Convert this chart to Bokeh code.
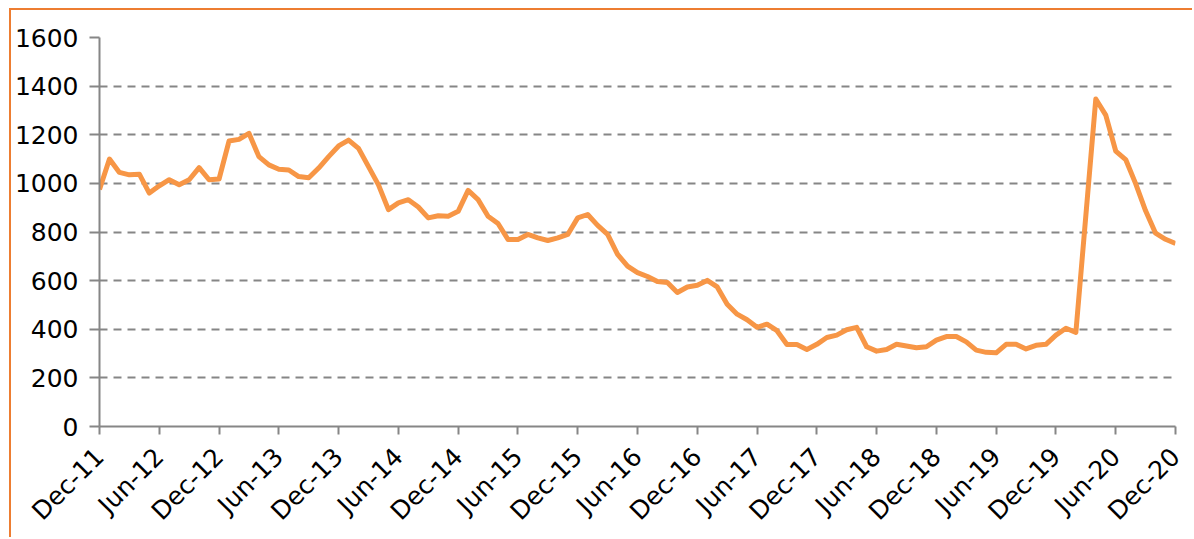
import math
from bokeh.plotting import figure
from bokeh.models import FixedTicker, Range1d
from bokeh.embed import file_html
from bokeh.resources import INLINE

# month index since Dec-11 (line jumps straight from month 98 to month 100)
months = [0, 1, 2, 3, 4, 5, 6, 7, 8, 9, 10, 11, 12, 13, 14, 15, 16, 17, 18, 19,
          20, 21, 22, 23, 24, 25, 26, 27, 28, 29, 30, 31, 32, 33, 34, 35, 36, 37, 38, 39,
          40, 41, 42, 43, 44, 45, 46, 47, 48, 49, 50, 51, 52, 53, 54, 55, 56, 57, 58, 59,
          60, 61, 62, 63, 64, 65, 66, 67, 68, 69, 70, 71, 72, 73, 74, 75, 76, 77, 78, 79,
          80, 81, 82, 83, 84, 85, 86, 87, 88, 89, 90, 91, 92, 93, 94, 95, 96, 97, 98,
          100, 101, 102, 103, 104, 105, 106, 107, 108]
values = [975, 1100, 1045, 1035, 1038, 960, 990, 1015, 994, 1015, 1065, 1015, 1018, 1174, 1181, 1206, 1110, 1076, 1058, 1055,
          1028, 1023, 1063, 1110, 1154, 1178, 1144, 1069, 994, 892, 920, 933, 903, 858, 867, 865, 885, 971, 933, 865,
          835, 769, 769, 790, 776, 765, 776, 790, 858, 872, 827, 790, 708, 660, 633, 617, 596, 592, 551, 574,
          581, 601, 574, 503, 462, 439, 408, 421, 394, 337, 337, 317, 338, 366, 376, 398, 408, 328, 310, 317,
          338, 331, 324, 328, 355, 370, 370, 348, 314, 305, 303, 338, 338, 319, 334, 338, 376, 404, 387,
          1347, 1281, 1133, 1098, 999, 887, 795, 770, 753]
tick_months = [0, 6, 12, 18, 24, 30, 36, 42, 48, 54, 60, 66, 72, 78, 84, 90, 96, 102, 108]
tick_labels = ["Dec-11", "Jun-12", "Dec-12", "Jun-13", "Dec-13", "Jun-14", "Dec-14", "Jun-15", "Dec-15",
               "Jun-16", "Dec-16", "Jun-17", "Dec-17", "Jun-18", "Dec-18", "Jun-19", "Dec-19", "Jun-20", "Dec-20"]
y_ticks = [0, 200, 400, 600, 800, 1000, 1200, 1400, 1600]

p = figure(width=1183, height=529, output_backend="svg", toolbar_location=None,
           x_range=Range1d(0, 108), y_range=Range1d(0, 1600),
           min_border_left=87, min_border_right=19, min_border_top=27, min_border_bottom=111)
p.styles = {"border-top": "2px solid #ED7D31", "border-left": "2px solid #ED7D31",
            "margin-left": "9px", "margin-top": "8px"}
p.outline_line_color = None
p.background_fill_color = "white"
p.border_fill_color = "white"

p.line(months, values, line_color="#F79646", line_width=5, line_join="round")

grey = "#868686"
font = "DejaVu Sans"
p.xgrid.visible = False
p.ygrid.grid_line_color = grey
p.ygrid.grid_line_width = 2
p.ygrid.grid_line_dash = "8 6"

p.yaxis.ticker = FixedTicker(ticks=y_ticks)
p.yaxis.minor_tick_line_color = None
p.yaxis.major_tick_in = 0
p.yaxis.major_tick_out = 10
p.yaxis.major_tick_line_color = grey
p.yaxis.major_tick_line_width = 2
p.yaxis.axis_line_color = grey
p.yaxis.axis_line_width = 2
p.yaxis.major_label_text_font = font
p.yaxis.major_label_text_font_size = "25px"
p.yaxis.major_label_text_color = "black"
p.yaxis.major_label_standoff = 11

p.xaxis.ticker = FixedTicker(ticks=tick_months)
p.xaxis.major_label_overrides = {m: l for m, l in zip(tick_months, tick_labels)}
p.xaxis.minor_tick_line_color = None
p.xaxis.major_tick_in = 0
p.xaxis.major_tick_out = 8
p.xaxis.major_tick_line_color = grey
p.xaxis.major_tick_line_width = 2
p.xaxis.axis_line_color = grey
p.xaxis.axis_line_width = 2
p.xaxis.major_label_orientation = math.pi / 4
p.xaxis.major_label_text_font = font
p.xaxis.major_label_text_font_size = "25px"
p.xaxis.major_label_text_color = "black"
p.xaxis.major_label_standoff = 18

open("out.html", "w").write(file_html(p, INLINE))
